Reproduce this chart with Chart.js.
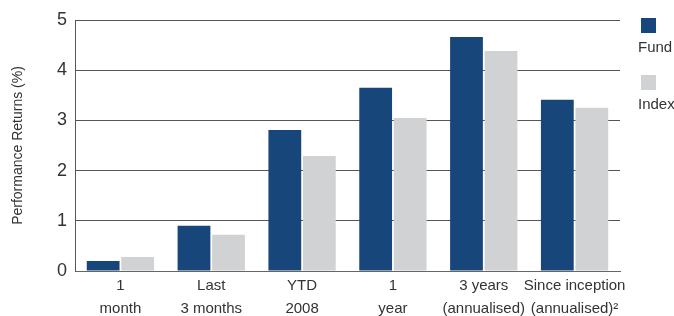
<!DOCTYPE html>
<html>
<head>
<meta charset="utf-8">
<script src="https://cdn.jsdelivr.net/npm/chart.js@4"></script>
<style>
  html, body { margin: 0; padding: 0; background: #fff; }
  #wrap { position: relative; width: 674px; height: 316px; }
  .key { position: absolute; left: 641px; width: 15px; height: 15px; }
  .keyLabel { position: absolute; left: 638px; font-family: "Liberation Sans", Arial, sans-serif; font-size: 15px; color: #333; }
</style>
</head>
<body>
<div id="wrap">
  <canvas id="chart" width="674" height="316"></canvas>
  <div class="key" style="top:18px;background:#17467a"></div>
  <div class="keyLabel" style="top:38px">Fund</div>
  <div class="key" style="top:75px;background:#d1d2d4"></div>
  <div class="keyLabel" style="top:95px">Index</div>
</div>
<script>
"use strict";

const categories = [
  ["1", "month"],
  ["Last", "3 months"],
  ["YTD", "2008"],
  ["1", "year"],
  ["3 years", "(annualised)"],
  ["Since inception", "(annualised)\u00B2"]
];
const fundValues = [0.2, 0.9, 2.81, 3.65, 4.66, 3.41];
const indexValues = [0.28, 0.72, 2.29, 3.05, 4.38, 3.25];
const yTicks = [0, 1, 2, 3, 4, 5];

const font = "'Liberation Sans', Arial, sans-serif";

const ctx = document.getElementById("chart").getContext("2d");
const myChart = new Chart(ctx, {
  type: "bar",
  data: {
    labels: categories,
    datasets: [{
      label: "Fund",
      data: fundValues,
      backgroundColor: "#17467a",
      barPercentage: 0.95,
      categoryPercentage: 0.76
    }, {
      label: "Index",
      data: indexValues,
      backgroundColor: "#d1d2d4",
      barPercentage: 0.95,
      categoryPercentage: 0.76
    }]
  },
  options: {
    responsive: false,
    animation: false,
    layout: { padding: { top: 20, right: 54, left: 0, bottom: 0 } },
    plugins: {
      legend: { display: false },
      tooltip: { enabled: false }
    },
    scales: {
      x: {
        grid: { display: false, drawTicks: false },
        border: { display: true, color: "#666", width: 1 },
        ticks: {
          color: "#333",
          font: { family: font, size: 15, lineHeight: 1.55 },
          padding: 3,
          maxRotation: 0,
          autoSkip: false
        },
        afterFit(scale) { scale.height = 45; }
      },
      y: {
        min: 0,
        max: 5,
        afterBuildTicks(scale) { scale.ticks = yTicks.map(v => ({ value: v })); },
        grid: { color: "#555", lineWidth: 1, drawTicks: false },
        border: { display: true, color: "#555", width: 1 },
        ticks: {
          color: "#333",
          font: { family: font, size: 18 },
          padding: 8
        },
        title: {
          display: true,
          text: "Performance Returns (%)",
          color: "#333",
          font: { family: font, size: 14 },
          padding: { top: 10, bottom: 4 }
        },
        afterFit(scale) { scale.width = 75; }
      }
    }
  }
});
</script>
</body>
</html>
